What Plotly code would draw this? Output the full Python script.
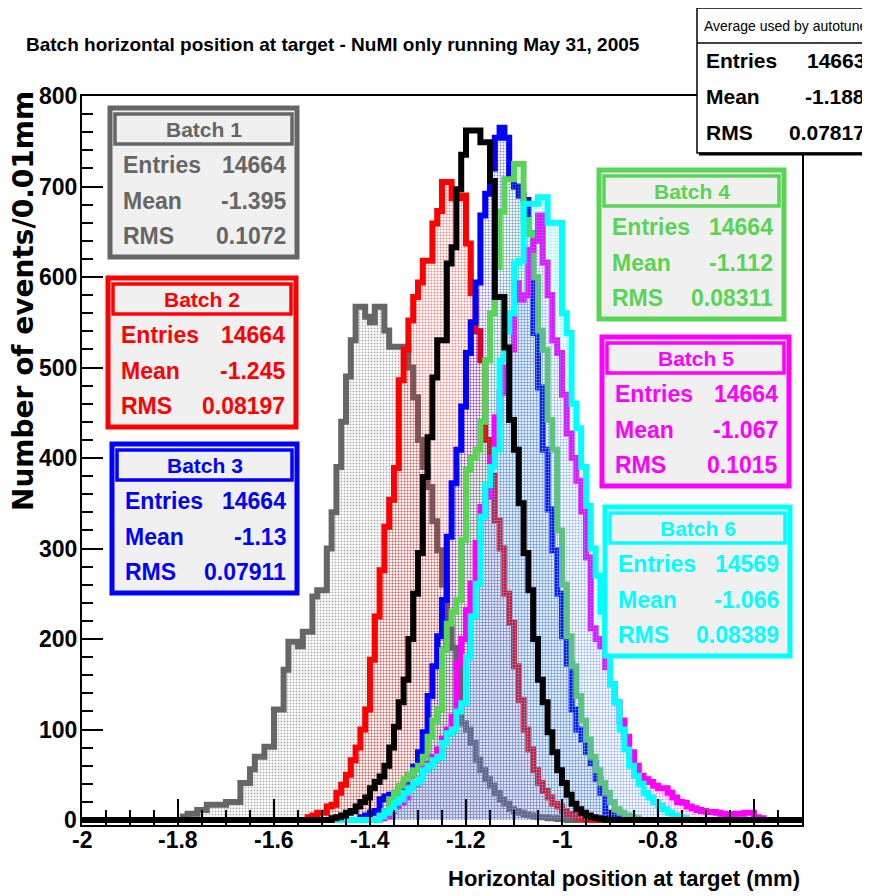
import numpy as np
import plotly.graph_objects as go

# ---------------- data ----------------
BIN_WIDTH = 0.01
X_MIN, X_MAX = -2.0, -0.5
N_BINS = 150

batch1_start = 21
batch1 = [4, 7, 7, 11, 11, 17, 17, 17, 17, 20, 20, 20, 41, 41, 56, 70, 70, 81, 81, 122,
          122, 166, 197, 197, 192, 208, 208, 247, 254, 254,
          300, 340, 390, 440, 490, 530, 567, 567, 556, 550, 567, 567, 541, 523, 523, 523, 523, 500, 467, 420,
          390, 368, 330, 298, 260, 213, 190, 169, 107, 100, 85, 67, 55, 45, 38, 30, 22, 18, 12, 10,
          8, 6, 5, 4, 3, 3, 2, 2, 1, 1]

batch2_start = 47
batch2 = [3, 5, 8, 8, 15, 17, 30, 39, 50, 66,
          80, 100, 122, 177, 225, 276, 324, 354, 389, 486,
          520, 552, 578, 594, 618, 618, 659, 673, 705, 705,
          687, 687, 690, 637, 582, 540, 508, 420, 380, 331,
          300, 250, 218, 170, 133, 100, 78, 55, 41, 32,
          25, 18, 15, 10, 7, 5, 3, 2, 1]

batch3_start = 58
batch3 = [3, 5, 8, 10, 23, 26, 28, 30, 34, 40,
          50, 59, 75, 97, 137, 170, 203, 243, 313, 372,
          409, 457, 516, 550, 594, 668, 692, 720, 754, 765,
          754, 712, 700, 690, 685, 648, 538, 478, 409, 343,
          298, 250, 203, 173, 122, 100, 89, 75, 63, 45,
          30, 8, 5, 3, 2]

batch4_start = 62
batch4 = [5, 10, 23, 30, 38, 45, 50, 55, 60, 70,
          92, 110, 122, 188, 217, 230, 243, 309, 387, 400,
          409, 440, 508, 560, 611, 672, 708, 708, 725, 725,
          663, 648, 600, 541, 519, 442, 409, 320, 260, 203,
          170, 137, 110, 89, 70, 55, 41, 30, 20, 12,
          8, 5, 3, 2]

batch5_start = 62
batch5 = [2, 4, 10, 15, 19, 25, 37, 40, 45, 56,
          62, 70, 78, 90, 100, 114, 173, 200, 232, 261,
          306, 346, 357, 400, 445, 472, 500, 520, 593, 575,
          580, 630, 640, 668, 616, 580, 530, 516, 470, 427,
          400, 375, 341, 290, 212, 200, 192, 169, 150, 130,
          110, 92, 75, 60, 49, 45, 42, 38, 35, 35,
          30, 25, 20, 19, 15, 13, 11, 10, 9, 9,
          8, 7, 6, 5, 7, 7, 8, 8, 3, 2]

batch6_start = 62
batch6 = [4, 8, 12, 19, 23, 30, 35, 41, 45, 55,
          60, 66, 70, 85, 96, 100, 120, 129, 180, 225,
          261, 335, 370, 390, 409, 508, 540, 560, 615, 618,
          681, 681, 681, 688, 688, 660, 660, 660, 560, 538,
          460, 433, 390, 347, 300, 270, 230, 188, 150, 130,
          100, 78, 60, 49, 40, 30, 25, 20, 16, 12,
          8, 5, 3, 2]

average_start = 52
average = [2, 3, 5, 8, 10, 15, 20, 25, 35, 42,
           48, 60, 80, 103, 130, 155, 200, 250, 295, 379,
           423, 489, 530, 530, 615, 633, 697, 735, 762, 762,
           762, 749, 749, 706, 578, 578, 522, 442, 409, 350,
           295, 254, 200, 155, 130, 97, 75, 55, 41, 28,
           18, 12, 8, 5, 3, 2, 1]

batch_names = ["Batch 1", "Batch 2", "Batch 3", "Batch 4", "Batch 5", "Batch 6"]
batch_entries = ["14664", "14664", "14664", "14664", "14664", "14569"]
batch_means = ["-1.395", "-1.245", "-1.13", "-1.112", "-1.067", "-1.066"]
batch_rms = ["0.1072", "0.08197", "0.07911", "0.08311", "0.1015", "0.08389"]
avg_title = "Average used by autotune"
avg_entries, avg_mean, avg_rms = "14663", "-1.188", "0.07817"

x_tick_vals = [-2, -1.8, -1.6, -1.4, -1.2, -1, -0.8, -0.6]
x_tick_text = ["-2", "-1.8", "-1.6", "-1.4", "-1.2", "-1", "-0.8", "-0.6"]
y_tick_vals = [0, 100, 200, 300, 400, 500, 600, 700, 800]
y_tick_text = ["0", "100", "200", "300", "400", "500", "600", "700", "800"]

title = "Batch horizontal position at target - NuMI only running May 31, 2005"
x_title = "Horizontal position at target (mm)"
y_title = "Number of events/0.01mm"

# ---------------- styling ----------------
colors = ["#666666", "#ff0000", "#0000ff", "#59d454", "#ff00ff", "#00ffff"]
FONT = "Liberation Sans, Arial, sans-serif"
PAGE_OFF = 8            # the page body margin that the browser adds around the figure
W, H = 870 - PAGE_OFF, 896 - PAGE_OFF
ML, MR, MT, MB = 82 - PAGE_OFF, 68, 96 - PAGE_OFF, 71
PW, PH = W - ML - MR, H - MT - MB


def px2x(px):
    return (px - PAGE_OFF - ML) / PW


def py2y(py):
    return (H + PAGE_OFF - MB - py) / PH


edges = X_MIN + BIN_WIDTH * np.arange(N_BINS + 1)


def full(start, vals):
    arr = np.zeros(N_BINS)
    arr[start:start + len(vals)] = vals
    return np.append(arr, arr[-1])


fig = go.Figure()
series = [(batch1_start, batch1), (batch2_start, batch2), (batch3_start, batch3),
          (batch4_start, batch4), (batch5_start, batch5), (batch6_start, batch6)]
for (st, vals), col, name in zip(series, colors, batch_names):
    fig.add_trace(go.Scatter(
        x=edges, y=full(st, vals), mode="lines", line_shape="hv", name=name,
        line=dict(color=col, width=6), fill="tozeroy", fillcolor="rgba(0,0,0,0)",
        fillpattern=dict(shape=".", fgcolor=col, bgcolor="rgba(0,0,0,0)", size=3, solidity=0.35),
        showlegend=False, hoverinfo="skip"))
fig.add_trace(go.Scatter(
    x=edges, y=full(average_start, average), mode="lines", line_shape="hv", name="Average",
    line=dict(color="black", width=6), showlegend=False, hoverinfo="skip"))

shapes = []
annotations = []


def rect(x0, y0, x1, y1, color, width, fill="rgba(0,0,0,0)"):
    shapes.append(dict(type="rect", xref="paper", yref="paper", x0=px2x(x0), x1=px2x(x1),
                       y0=py2y(y1), y1=py2y(y0), line=dict(color=color, width=width), fillcolor=fill,
                       layer="above"))


def text(px, py, s, color, size, anchor="left", bold=True, family=FONT):
    annotations.append(dict(xref="paper", yref="paper", x=px2x(px), y=py2y(py), text=s, showarrow=False,
                            xanchor=anchor, yanchor="middle", borderpad=0,
                            font=dict(family=family, size=size, color=color, weight="bold" if bold else "normal")))


box_pos = [(110, 108, 297), (108, 278, 296), (112, 444, 297), (599, 170, 784), (602, 337, 789), (605, 507, 790)]
for (x0, y0, x1), col, name, en, mn, rm in zip(box_pos, colors, batch_names, batch_entries, batch_means, batch_rms):
    rect(x0, y0, x1, y0 + 149, col, 5, "#f0f0f0")
    rect(x0 + 5, y0 + 6, x1 - 5, y0 + 36, col, 3.5)
    text((x0 + x1) / 2, y0 + 21, name, col, 21, "center")
    for dy, lab, val in [(57, "Entries", en), (93, "Mean", mn), (128, "RMS", rm)]:
        text(x0 + 12, y0 + dy, lab, col, 23, "left")
        text(x1 - 10, y0 + dy, val, col, 23, "right")

# average box
rect(697, 8, 874, 153, "black", 1.5, "white")
shapes.append(dict(type="line", xref="paper", yref="paper", x0=px2x(699), x1=px2x(874),
                   y0=py2y(154), y1=py2y(154), line=dict(color="black", width=3), layer="above"))
shapes.append(dict(type="line", xref="paper", yref="paper", x0=px2x(697), x1=px2x(874),
                   y0=py2y(43), y1=py2y(43), line=dict(color="black", width=1.5), layer="above"))
text(785, 26, avg_title, "black", 14, "center", bold=False)
for dy, lab, val in [(61, "Entries", avg_entries), (97, "Mean", avg_mean), (132, "RMS", avg_rms)]:
    text(705, dy, lab, "black", 21, "left")
    text(866, dy, val, "black", 21, "right")

# tick labels as text placed on the data scale
for v, s in zip(x_tick_vals, x_tick_text):
    annotations.append(dict(xref="x", yref="paper", x=v, y=py2y(840), text=s, showarrow=False,
                            xanchor="center", yanchor="middle", borderpad=0,
                            font=dict(family=FONT, size=23, color="black", weight="bold")))
for v, s in zip(y_tick_vals, y_tick_text):
    annotations.append(dict(xref="paper", yref="y", x=px2x(78), y=v, text=s, showarrow=False,
                            xanchor="right", yanchor="middle", borderpad=0,
                            font=dict(family=FONT, size=23, color="black", weight="bold")))

# titles
text(25, 45, title, "black", 19, "left")
text(801, 878, x_title, "black", 22, "right")
annotations.append(dict(xref="paper", yref="paper", x=px2x(23), y=py2y(90), text=y_title, showarrow=False,
                        textangle=-90, xanchor="center", yanchor="top", borderpad=0,
                        font=dict(family="DejaVu Sans, Liberation Sans, sans-serif", size=28, color="black",
                                  weight="bold")))

fig.update_layout(
    width=W, height=H, margin=dict(l=ML, r=MR, t=MT, b=MB, pad=0),
    paper_bgcolor="white", plot_bgcolor="white",
    shapes=shapes, annotations=annotations,
    xaxis=dict(range=[X_MIN, X_MAX], showgrid=False, zeroline=False, showline=True, linecolor="black",
               linewidth=2, mirror=True, ticks="inside", ticklen=26, tickwidth=1.5, tickcolor="black",
               tickvals=x_tick_vals, showticklabels=False,
               minor=dict(ticks="inside", ticklen=15, tickwidth=1.5, tickcolor="black", dtick=0.05, showgrid=False)),
    yaxis=dict(range=[-5.5, 800], showgrid=False, zeroline=False, showline=True, linecolor="black",
               linewidth=2, mirror=True, ticks="inside", ticklen=21, tickwidth=1.5, tickcolor="black",
               tickvals=y_tick_vals, showticklabels=False,
               minor=dict(ticks="inside", ticklen=11, tickwidth=1.5, tickcolor="black", dtick=20, showgrid=False)),
)
fig.write_html("out.html")
